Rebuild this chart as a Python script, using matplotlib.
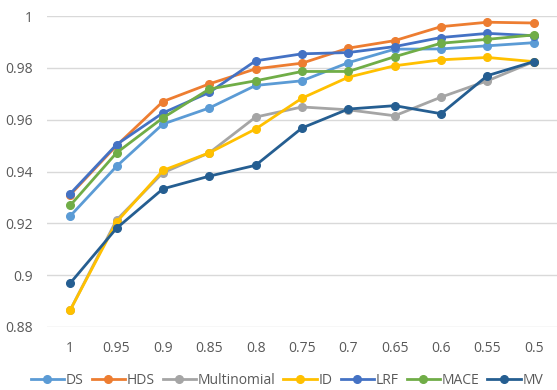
import matplotlib
matplotlib.use("Agg")
import matplotlib.pyplot as plt

categories = ["1", "0.95", "0.9", "0.85", "0.8", "0.75", "0.7", "0.65", "0.6", "0.55", "0.5"]
ds = [0.9228, 0.9420, 0.9583, 0.9645, 0.9732, 0.9750, 0.9820, 0.9872, 0.9873, 0.9885, 0.9897]
hds = [0.9310, 0.9500, 0.9670, 0.9738, 0.9796, 0.9818, 0.9876, 0.9905, 0.9959, 0.9976, 0.9973]
multinomial = [0.8865, 0.9213, 0.9395, 0.9472, 0.9610, 0.9649, 0.9638, 0.9615, 0.9687, 0.9750, 0.9824]
id_ = [0.8865, 0.9205, 0.9404, 0.9472, 0.9564, 0.9683, 0.9764, 0.9808, 0.9831, 0.9840, 0.9824]
lrf = [0.9314, 0.9504, 0.9626, 0.9705, 0.9827, 0.9854, 0.9859, 0.9882, 0.9917, 0.9933, 0.9924]
mace = [0.9269, 0.9472, 0.9607, 0.9718, 0.9750, 0.9786, 0.9786, 0.9843, 0.9895, 0.9910, 0.9927]
mv = [0.8969, 0.9181, 0.9333, 0.9382, 0.9424, 0.9568, 0.9641, 0.9654, 0.9623, 0.9770, 0.9824]

series = [
    ("DS", ds, "#5B9BD5"),
    ("HDS", hds, "#ED7D31"),
    ("Multinomial", multinomial, "#A5A5A5"),
    ("ID", id_, "#FFC000"),
    ("LRF", lrf, "#4472C4"),
    ("MACE", mace, "#70AD47"),
    ("MV", mv, "#255E91"),
]
yticks = [0.88, 0.9, 0.92, 0.94, 0.96, 0.98, 1.0]
ytick_labels = ["0.88", "0.9", "0.92", "0.94", "0.96", "0.98", "1"]

plt.rcParams['font.family'] = ['Open Sans', 'DejaVu Sans']
fig = plt.figure(figsize=(5.57, 3.9), dpi=100)
ax = fig.add_axes([47/557, 1 - 327/390, 510/557, 311/390])

x = list(range(len(categories)))
for name, vals, col in series:
    ax.plot(x, vals, color=col, lw=2.0, marker='o', ms=5.5, label=name, zorder=3)

ax.set_xlim(-0.5, len(categories) - 0.5)
ax.set_ylim(0.88, 1.0)
ax.set_yticks(yticks)
ax.set_yticklabels(ytick_labels)
ax.set_xticks(x)
ax.set_xticklabels(categories)
for s in ax.spines.values():
    s.set_visible(False)
ax.grid(axis='y', color='#D9D9D9', lw=1)
ax.set_axisbelow(True)
ax.tick_params(length=0, labelsize=10, colors='#595959', pad=10)

fig.legend(loc='center', bbox_to_anchor=(0.515, 10/390), ncol=7, frameon=False,
           fontsize=10, labelcolor='#595959', handlelength=2.4, handletextpad=0.1,
           columnspacing=0.6, borderpad=0, borderaxespad=0)

fig.savefig("out.png", dpi=100)
